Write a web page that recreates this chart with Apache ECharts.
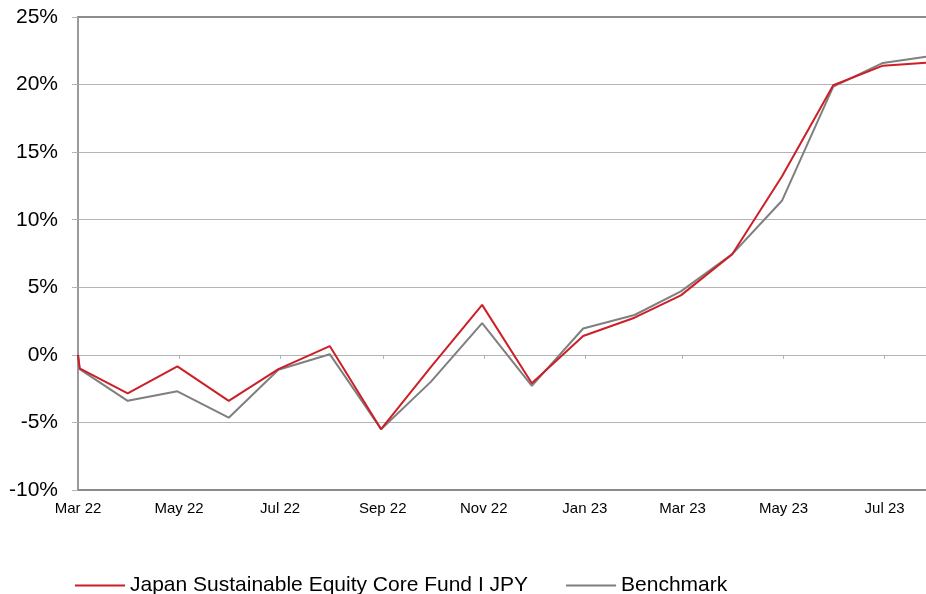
<!DOCTYPE html>
<html>
<head>
<meta charset="utf-8">
<script src="https://cdn.jsdelivr.net/npm/echarts@6/dist/echarts.min.js"></script>
<style>
  html, body { margin: 0; padding: 0; background: #fff; }
  #main { width: 926px; height: 594px; }
</style>
</head>
<body>
<div id="main"></div>
<script>
var dates = ['2022-03-01', '2022-03-02', '2022-03-31', '2022-04-30', '2022-05-31', '2022-06-30',
  '2022-07-31', '2022-08-31', '2022-09-30', '2022-10-31', '2022-11-30', '2022-12-31',
  '2023-01-31', '2023-02-28', '2023-03-31', '2023-04-30', '2023-05-31', '2023-06-30', '2023-07-31'];
var fund = [0, -1.0, -2.85, -0.85, -3.4, -1.05, 0.65, -5.5, -0.9, 3.7, -2.1, 1.4,
  2.75, 4.4, 7.45, 13.2, 19.95, 21.4, 21.65];
var bench = [0, -1.05, -3.4, -2.7, -4.65, -1.1, 0.05, -5.5, -2.0, 2.35, -2.3, 1.95,
  2.95, 4.7, 7.45, 11.4, 19.85, 21.6, 22.15];
var tickDates = ['2022-03-01', '2022-05-01', '2022-07-01', '2022-09-01', '2022-11-01',
  '2023-01-01', '2023-03-01', '2023-05-01', '2023-07-01'];
var seriesNames = ['Japan Sustainable Equity Core Fund I JPY', 'Benchmark'];
var months = ['Jan', 'Feb', 'Mar', 'Apr', 'May', 'Jun', 'Jul', 'Aug', 'Sep', 'Oct', 'Nov', 'Dec'];

// dates -> timestamps (x is a plain value axis so custom ticks can sit on month starts)
function ts(s) {
  var p = s.split('-');
  return new Date(+p[0], +p[1] - 1, +p[2]).getTime();
}
var tickValues = tickDates.map(ts);
var xMin = ts('2022-03-01');
var xMax = ts('2023-07-26');

var chartDom = document.getElementById('main');
var myChart = echarts.init(chartDom);
var font = 'Liberation Sans, Arial, sans-serif';

var option = {
  animation: false,
  textStyle: { fontFamily: font },
  grid: { left: 78, right: 0, top: 17, bottom: 104 },
  legend: {
    left: 70,
    top: 570,
    itemGap: 38,
    itemWidth: 50,
    itemHeight: 2,
    icon: 'rect',
    textStyle: { fontSize: 21, color: '#000', fontFamily: font },
    data: seriesNames
  },
  xAxis: [
    {
      type: 'value',
      min: xMin,
      max: xMax,
      position: 'bottom',
      axisLine: { onZero: false, lineStyle: { color: '#8c8c8c', width: 2 } },
      axisTick: { show: false },
      splitLine: { show: false },
      axisLabel: {
        customValues: tickValues,
        margin: 11,
        fontSize: 15,
        color: '#000',
        fontFamily: font,
        formatter: function (v) {
          var d = new Date(v);
          return months[d.getMonth()] + ' ' + String(d.getFullYear()).slice(2);
        }
      }
    },
    {
      type: 'value',
      min: xMin,
      max: xMax,
      position: 'bottom',
      axisLine: { onZero: true, lineStyle: { color: '#b4b4b4', width: 1 } },
      axisTick: { show: true, customValues: tickValues, length: 4, lineStyle: { color: '#b4b4b4' } },
      axisLabel: { show: false },
      splitLine: { show: false }
    },
    {
      type: 'value',
      min: xMin,
      max: xMax,
      position: 'top',
      axisLine: { lineStyle: { color: '#8c8c8c', width: 2 } },
      axisTick: { show: false },
      axisLabel: { show: false },
      splitLine: { show: false }
    }
  ],
  yAxis: {
    type: 'value',
    min: -10,
    max: 25,
    interval: 5,
    axisLine: { show: true, lineStyle: { color: '#9a9a9a', width: 2 } },
    axisTick: { show: true, length: 6, lineStyle: { color: '#b4b4b4' } },
    axisLabel: { margin: 20, fontSize: 21, color: '#000', fontFamily: font, formatter: '{value}%' },
    splitLine: { lineStyle: { color: '#b4b4b4', width: 1 } }
  },
  series: [
    {
      name: seriesNames[0],
      type: 'line',
      xAxisIndex: 0,
      symbol: 'none',
      z: 4,
      color: '#cc1f27',
      lineStyle: { width: 2, color: '#cc1f27' },
      data: dates.map(function (d, i) { return [ts(d), fund[i]]; })
    },
    {
      name: seriesNames[1],
      type: 'line',
      xAxisIndex: 0,
      symbol: 'none',
      z: 3,
      color: '#7f7f7f',
      lineStyle: { width: 2, color: '#7f7f7f' },
      data: dates.map(function (d, i) { return [ts(d), bench[i]]; })
    }
  ]
};

myChart.setOption(option);
</script>
</body>
</html>
